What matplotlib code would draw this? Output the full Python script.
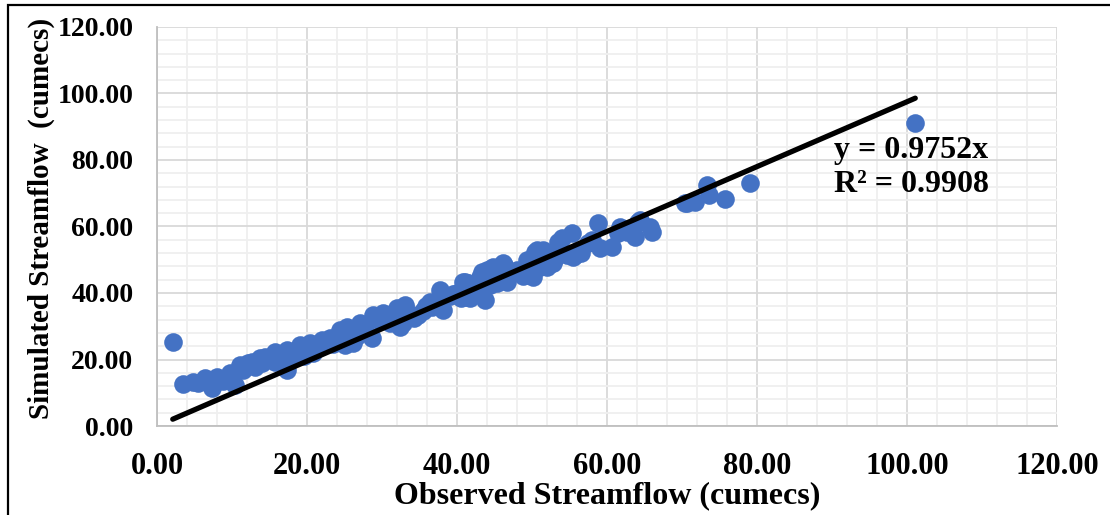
import numpy as np
import matplotlib
matplotlib.use("Agg")
import matplotlib.pyplot as plt
from matplotlib.patches import Rectangle
from matplotlib.ticker import MultipleLocator, FormatStrFormatter

# observed vs simulated streamflow (cumecs)
observed = [2.1, 3.5, 4.8, 6.4, 7.3, 8.0, 9.5, 10.4, 9.7, 11.1, 12.1, 11.5, 12.7, 13.7,
            14.0, 14.4, 15.7, 15.7, 16.7, 17.3, 17.3, 18.1, 18.7, 19.1, 20.0, 20.4, 20.8,
            21.3, 22.0, 22.1, 23.1, 24.0, 24.4, 24.8, 25.1, 25.3, 26.1, 27.1, 27.7, 28.7,
            28.8, 30.1, 30.5, 31.1, 32.0, 32.4, 32.8, 33.1, 33.1, 33.8, 34.8, 35.5, 36.4,
            36.7, 37.7, 37.7, 38.1, 38.1, 39.0, 40.0, 40.5, 40.8, 41.1, 41.3, 41.5, 41.7,
            42.3, 42.7, 43.1, 43.3, 43.7, 44.0, 44.4, 44.7, 44.8, 45.3, 45.7, 45.7, 46.1,
            46.2, 46.6, 48.8, 49.3, 49.5, 50.1, 50.4, 50.7, 51.0, 51.5, 52.0, 52.7, 52.8,
            53.3, 53.5, 54.0, 54.7, 55.3, 55.5, 55.7, 57.5, 58.0, 58.8, 59.1, 60.7, 61.5,
            61.7, 62.7, 63.7, 64.1, 64.4, 65.7, 66.0, 70.4, 70.7, 71.7, 73.3, 73.6, 75.7,
            79.1, 101.1,
            5.5, 8.8, 13.0, 16.2, 19.6, 23.5, 26.6, 29.5, 31.6, 34.2, 35.9, 39.5, 42.0,
            47.0, 48.0, 53.0, 56.5, 62.2]
simulated = [25.2, 12.6, 13.2, 14.4, 11.4, 14.7, 13.8, 12.3, 15.9, 18.3, 19.0, 16.8, 19.2, 20.4,
             19.0, 20.8, 22.3, 19.2, 20.4, 22.9, 16.8, 21.4, 22.9, 24.4, 22.9, 25.0, 21.9,
             24.4, 25.9, 25.3, 26.5, 26.5, 28.9, 28.9, 24.4, 29.8, 25.0, 31.0, 28.9, 26.5,
             33.4, 34.0, 32.0, 31.0, 35.5, 29.8, 31.0, 36.4, 35.8, 33.0, 33.4, 34.5, 37.3,
             35.8, 40.9, 37.9, 38.5, 34.9, 39.0, 40.0, 38.5, 43.3, 43.3, 38.8, 43.0, 38.5,
             42.0, 41.8, 44.8, 46.3, 37.9, 46.9, 42.4, 47.5, 47.8, 43.0, 44.8, 46.9, 49.0,
             48.4, 43.3, 45.0, 49.9, 45.4, 44.8, 52.3, 52.9, 47.8, 52.9, 47.8, 49.0, 49.0,
             52.3, 55.3, 56.5, 51.4, 58.0, 50.8, 51.4, 55.0, 55.9, 61.0, 53.5, 53.8, 58.0,
             59.8, 58.3, 56.8, 61.4, 62.0, 59.8, 58.3, 67.0, 67.0, 67.4, 72.5, 69.5, 68.3,
             73.1, 91.1,
             13.0, 13.5, 17.8, 21.0, 21.2, 24.8, 27.2, 31.8, 32.5, 32.6, 36.2, 39.6, 40.6,
             45.6, 47.0, 50.5, 52.0, 58.8]
slope = 0.9752
r2 = 0.9908

fig = plt.figure(figsize=(11.1, 5.15), dpi=100)
ax = fig.add_axes([157 / 1110, 89 / 515, 900 / 1110, 399 / 515])

font = "Liberation Serif"

# excel-like grid
ax.xaxis.set_major_locator(MultipleLocator(20))
ax.yaxis.set_major_locator(MultipleLocator(20))
ax.xaxis.set_minor_locator(MultipleLocator(4))
ax.yaxis.set_minor_locator(MultipleLocator(4))
ax.grid(which="minor", color="#efefef", lw=1.3, zorder=0)
ax.grid(which="major", color="#d9d9d9", lw=1.3, zorder=0)
ax.set_axisbelow(True)
ax.set_xlim(0, 120)
ax.set_ylim(0, 120)
ax.xaxis.set_major_formatter(FormatStrFormatter("%.2f"))
ax.yaxis.set_major_formatter(FormatStrFormatter("%.2f"))
for s in ["top", "right"]:
    ax.spines[s].set_visible(False)
for s in ["left", "bottom"]:
    ax.spines[s].set_color("#bfbfbf")
    ax.spines[s].set_linewidth(1.3)
ax.tick_params(which="both", length=0)
ax.tick_params(axis="x", pad=19)
ax.tick_params(axis="y", pad=17)
for lab in ax.get_xticklabels():
    lab.set_fontfamily(font)
    lab.set_fontweight("bold")
    lab.set_fontsize(22)
for lab in ax.get_yticklabels():
    lab.set_fontfamily(font)
    lab.set_fontweight("bold")
    lab.set_fontsize(20)

ax.scatter(observed, simulated, s=180, color="#4472c4", zorder=3, linewidths=0)

# trendline through origin
xl = np.array([min(observed), max(observed)])
ax.plot(xl, slope * xl, color="black", lw=3.8, solid_capstyle="round", zorder=4)

ax.text(90.3, 83, "y = %.4fx" % slope, fontfamily=font, fontweight="bold", fontsize=23,
        va="center", ha="left", zorder=5)
ax.text(90.3, 72.5, "R² = %.4f" % r2, fontfamily=font, fontweight="bold", fontsize=23,
        va="center", ha="left", zorder=5)

ax.set_xlabel("Observed Streamflow (cumecs)", fontfamily=font, fontweight="bold",
              fontsize=23, labelpad=0)
ax.set_ylabel("Simulated Streamflow  (cumecs)", fontfamily=font, fontweight="bold",
              fontsize=21)
ax.yaxis.set_label_coords(-0.113, 0.52)

# chart border
fig.patches.append(Rectangle((8 / 1110, -0.2), 1.2, 1.2 - 5 / 515, transform=fig.transFigure,
                             fill=False, edgecolor="black", lw=1.6))

fig.savefig("out.png", dpi=100)
